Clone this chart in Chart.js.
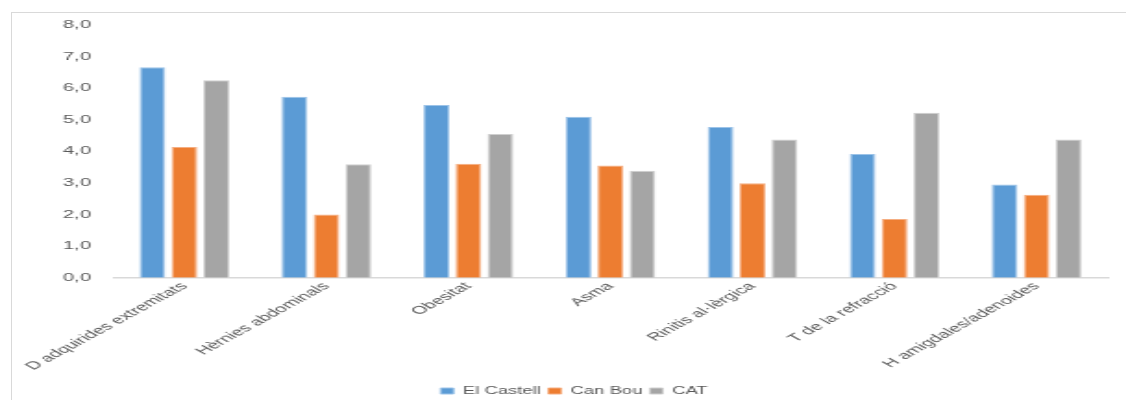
<!DOCTYPE html>
<html>
<head>
<meta charset="utf-8">
<script src="https://cdn.jsdelivr.net/npm/chart.js@4/dist/chart.umd.min.js"></script>
<style>
  html, body { margin: 0; padding: 0; background: #ffffff; }
  #stage { position: relative; width: 1126px; height: 400px; overflow: hidden; background: #ffffff; }
  #frame { position: absolute; left: 11px; top: 12px; width: 1200px; height: 500px;
           border-left: 1px solid #d9d9d9; border-top: 1px solid #d9d9d9; }
  /* chart is laid out narrow and widened horizontally */
  #wide { position: absolute; left: 0; top: 0; width: 609px; height: 400px;
          transform-origin: 0 0; transform: scaleX(1.849); }
  #c { display: block; width: 609px; height: 400px; }
</style>
</head>
<body>
<div id="stage">
  <div id="frame"></div>
  <div id="wide"><canvas id="c" width="609" height="400"></canvas></div>
</div>
<script>
const categories = [
  "D adquirides extremitats",
  "Hèrnies abdominals",
  "Obesitat",
  "Asma",
  "Rinitis al·lèrgica",
  "T de la refracció",
  "H amigdales/adenoides"
];
const elCastell = [6.66, 5.73, 5.47, 5.10, 4.77, 3.92, 2.95];
const canBou    = [4.14, 2.00, 3.61, 3.55, 2.99, 1.86, 2.63];
const cat       = [6.25, 3.59, 4.55, 3.39, 4.38, 5.22, 4.38];
const yTicks    = [0, 1, 2, 3, 4, 5, 6, 7, 8];

const textColor = "#595959";
const fontFamily = "'Liberation Sans', Arial, sans-serif";

function series(label, data, fill, edge) {
  return {
    label, data,
    backgroundColor: fill,
    borderColor: edge,
    borderWidth: 1,
    categoryPercentage: 0.675,
    barPercentage: 0.81
  };
}

// nudge the legend row a little lower, close to the bottom edge
const legendDrop = {
  id: "legendDrop",
  afterLayout(chart) {
    if (chart.legend) {
      chart.legend.top += 7;
      chart.legend.bottom += 7;
    }
  }
};

new Chart(document.getElementById("c"), {
  type: "bar",
  data: {
    labels: categories,
    datasets: [
      series("El Castell", elCastell, "#5b9bd5", "#9cc3e8"),
      series("Can Bou", canBou, "#ed7d31", "#f5ae82"),
      series("CAT", cat, "#a5a5a5", "#cfcfcf")
    ]
  },
  plugins: [legendDrop],
  options: {
    responsive: false,
    devicePixelRatio: 1,
    animation: false,
    layout: { padding: { left: 22, right: 10, top: 25, bottom: 1 } },
    plugins: {
      tooltip: { enabled: false },
      legend: {
        position: "bottom",
        labels: {
          color: textColor,
          font: { family: fontFamily, size: 10 },
          boxWidth: 7,
          boxHeight: 6,
          padding: 4
        }
      }
    },
    scales: {
      x: {
        grid: { display: false, drawTicks: false },
        border: { display: true, color: "#d9d9d9", width: 1.5 },
        ticks: {
          color: textColor,
          font: { family: fontFamily, size: 11 },
          minRotation: 45,
          maxRotation: 45,
          autoSkip: false,
          padding: 2
        }
      },
      y: {
        min: 0,
        max: 8,
        afterBuildTicks: (axis) => { axis.ticks = yTicks.map(v => ({ value: v })); },
        grid: { display: false, drawTicks: false },
        border: { display: false },
        ticks: {
          color: textColor,
          font: { family: fontFamily, size: 11 },
          padding: 12,
          callback: (v) => Number(v).toFixed(1).replace(".", ",")
        }
      }
    }
  }
});
</script>
</body>
</html>
